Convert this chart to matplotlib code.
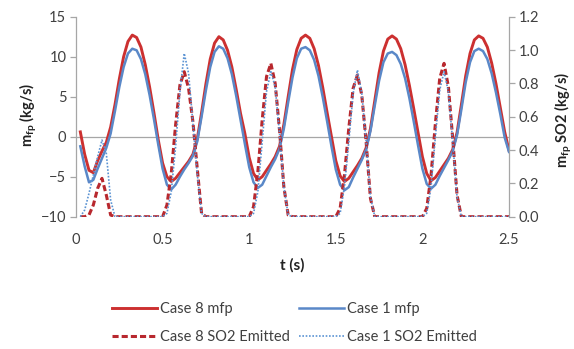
import numpy as np
import matplotlib
matplotlib.use("Agg")
import matplotlib.pyplot as plt
from matplotlib.lines import Line2D

plt.rcParams['font.family'] = ['Lato', 'DejaVu Sans']
plt.rcParams['mathtext.fontset'] = 'custom'
plt.rcParams['mathtext.rm'] = 'Lato'
plt.rcParams['mathtext.bf'] = 'Lato:bold'

# ---------------- data ----------------
t = np.round(np.arange(1, 101) * 0.025, 3)

case8_mfp = [
    0.6, -2.2, -4.2, -4.5, -3.0, -1.8, -0.7, 1.2, 4.0, 7.2,
    10.0, 11.9, 12.7, 12.4, 11.2, 9.0, 6.2, 3.0, -0.4, -3.3,
    -5.0, -5.6, -5.2, -4.5, -3.8, -3.1, -2.2, -0.3, 3.0, 6.6,
    9.7, 11.7, 12.5, 12.1, 10.8, 8.7, 5.9, 2.9, 0.4, -2.6,
    -4.6, -5.4, -5.0, -4.2, -3.4, -2.5, -1.2, 1.5, 5.0, 8.4,
    10.9, 12.3, 12.7, 12.3, 11.0, 8.9, 6.1, 3.0, 0.0, -3.0,
    -4.9, -5.6, -5.2, -4.4, -3.6, -2.7, -1.4, 1.0, 4.5, 8.0,
    10.7, 12.2, 12.6, 12.2, 11.0, 9.0, 6.4, 3.5, 0.5, -2.5,
    -4.6, -5.5, -5.1, -4.3, -3.5, -2.7, -1.6, 0.5, 4.0, 7.6,
    10.4, 12.1, 12.6, 12.3, 11.2, 9.2, 6.6, 3.6, 0.6, -1.7,
]

case1_mfp = [
    -1.2, -3.7, -5.7, -5.4, -4.0, -2.7, -1.4, 0.4, 3.2, 6.2,
    8.7, 10.4, 11.0, 10.8, 9.7, 7.8, 5.2, 2.2, -1.0, -4.0,
    -6.0, -6.6, -6.0, -5.0, -4.1, -3.3, -2.4, -0.6, 2.5, 5.8,
    8.7, 10.6, 11.3, 11.0, 9.8, 7.8, 5.1, 2.1, -0.9, -3.8,
    -5.7, -6.4, -6.0, -4.9, -3.8, -2.8, -1.5, 1.0, 4.3, 7.4,
    9.8, 11.0, 11.2, 10.8, 9.6, 7.6, 4.9, 1.9, -1.2, -4.1,
    -6.0, -6.7, -6.3, -5.1, -4.0, -2.9, -1.6, 0.7, 3.9, 7.0,
    9.3, 10.4, 10.6, 10.2, 9.1, 7.3, 4.8, 1.9, -1.1, -4.0,
    -5.9, -6.5, -6.0, -4.9, -3.9, -2.9, -1.8, 0.2, 3.4, 6.8,
    9.3, 10.7, 11.0, 10.7, 9.7, 7.9, 5.5, 2.8, -0.1, -1.9,
]

case8_so2 = [
    0.0, 0.0, 0.01, 0.07, 0.17, 0.23, 0.13, 0.01, 0.0, 0.0,
    0.0, 0.0, 0.0, 0.0, 0.0, 0.0, 0.0, 0.0, 0.0, 0.0,
    0.07, 0.26, 0.55, 0.79, 0.87, 0.77, 0.57, 0.29, 0.02, 0.0,
    0.0, 0.0, 0.0, 0.0, 0.0, 0.0, 0.0, 0.0, 0.0, 0.0,
    0.06, 0.27, 0.58, 0.84, 0.92, 0.80, 0.52, 0.18, 0.01, 0.0,
    0.0, 0.0, 0.0, 0.0, 0.0, 0.0, 0.0, 0.0, 0.0, 0.0,
    0.05, 0.25, 0.53, 0.77, 0.85, 0.73, 0.45, 0.11, 0.0, 0.0,
    0.0, 0.0, 0.0, 0.0, 0.0, 0.0, 0.0, 0.0, 0.0, 0.0,
    0.05, 0.25, 0.56, 0.83, 0.92, 0.78, 0.47, 0.13, 0.0, 0.0,
    0.0, 0.0, 0.0, 0.0, 0.0, 0.0, 0.0, 0.0, 0.0, 0.0,
]

case1_so2 = [
    0.0, 0.04, 0.14, 0.25, 0.36, 0.46, 0.38, 0.10, 0.0, 0.0,
    0.0, 0.0, 0.0, 0.0, 0.0, 0.0, 0.0, 0.0, 0.0, 0.0,
    0.02, 0.15, 0.42, 0.75, 0.98, 0.86, 0.56, 0.26, 0.02, 0.0,
    0.0, 0.0, 0.0, 0.0, 0.0, 0.0, 0.0, 0.0, 0.0, 0.0,
    0.02, 0.15, 0.45, 0.75, 0.87, 0.78, 0.50, 0.18, 0.01, 0.0,
    0.0, 0.0, 0.0, 0.0, 0.0, 0.0, 0.0, 0.0, 0.0, 0.0,
    0.02, 0.18, 0.45, 0.74, 0.88, 0.74, 0.45, 0.12, 0.0, 0.0,
    0.0, 0.0, 0.0, 0.0, 0.0, 0.0, 0.0, 0.0, 0.0, 0.0,
    0.02, 0.18, 0.48, 0.76, 0.87, 0.75, 0.45, 0.12, 0.0, 0.0,
    0.0, 0.0, 0.0, 0.0, 0.0, 0.0, 0.0, 0.0, 0.0, 0.0,
]

x_ticks = [0, 0.5, 1, 1.5, 2, 2.5]
x_tick_labels = ['0', '0.5', '1', '1.5', '2', '2.5']
left_ticks = [-10, -5, 0, 5, 10, 15]
right_ticks = [0.0, 0.2, 0.4, 0.6, 0.8, 1.0, 1.2]
right_tick_labels = ['0.0', '0.2', '0.4', '0.6', '0.8', '1.0', '1.2']

series_labels = ['Case 8 mfp', 'Case 1 mfp', 'Case 8 SO2 Emitted', 'Case 1 SO2 Emitted']

# ---------------- styles ----------------
RED = '#CC3030'
BLUE = '#5A88C8'
DRED = '#B8282E'
LBLUE = '#5B93D3'
GRID = '#A6A6A6'
TXT = '#404040'

W, H = 574, 349
fig = plt.figure(figsize=(W / 100, H / 100), dpi=100)
ax = fig.add_axes([76 / W, 1 - 216.7 / H, (509 - 76) / W, 200 / H])
ax2 = ax.twinx()

ax.axhline(0, color=GRID, lw=0.9, zorder=1)
l8, = ax.plot(t, case8_mfp, color=RED, lw=2.1, zorder=3)
l1, = ax.plot(t, case1_mfp, color=BLUE, lw=1.8, zorder=4)
s8, = ax2.plot(t, case8_so2, color=DRED, lw=2.2, dashes=(2, 1), zorder=3)
s1, = ax2.plot(t, case1_so2, color=LBLUE, lw=1.2, dashes=(1, 1), zorder=4)

ax.set_xlim(0, 2.5)
ax.set_ylim(-10, 15)
ax2.set_ylim(0, 1.2)
ax.set_xticks(x_ticks)
ax.set_xticklabels(x_tick_labels)
ax.set_yticks(left_ticks)
ax2.set_yticks(right_ticks)
ax2.set_yticklabels(right_tick_labels)

for a in (ax, ax2):
    for s in ('top', 'bottom'):
        a.spines[s].set_visible(False)
    a.spines['left'].set_color(GRID)
    a.spines['right'].set_color(GRID)
    a.spines['left'].set_linewidth(0.9)
    a.spines['right'].set_linewidth(0.9)
ax.spines['right'].set_visible(False)
ax2.spines['left'].set_visible(False)

ax.tick_params(axis='x', length=0, pad=12, labelsize=10.5, labelcolor=TXT)
ax.tick_params(axis='y', length=4, width=0.9, color=GRID, pad=3, labelsize=10.5, labelcolor=TXT)
ax2.tick_params(axis='y', length=4, width=0.9, color=GRID, pad=3, labelsize=10.5, labelcolor=TXT)

fig.text(28 / W, 1 - 115 / H, r'$\mathbf{m_{fp}}$ (kg/s)', rotation=90, ha='center', va='center',
         fontsize=10.5, fontweight='bold', color='#222222')
fig.text(563 / W, 1 - 120 / H, r'$\mathbf{m_{fp}}$ SO2 (kg/s)', rotation=90, ha='center', va='center',
         fontsize=10.5, fontweight='bold', color='#222222')
fig.text(292 / W, 1 - 265 / H, 't (s)', ha='center', va='center', fontsize=11,
         fontweight='bold', color='#222222')

handles = [
    Line2D([], [], color=RED, lw=2.1),
    Line2D([], [], color=BLUE, lw=1.8),
    Line2D([], [], color=DRED, lw=2.2, dashes=(2, 1)),
    Line2D([], [], color=LBLUE, lw=1.2, dashes=(1, 1)),
]
order = [0, 2, 1, 3]
leg = fig.legend([handles[i] for i in order], [series_labels[i] for i in order],
                 ncol=2, loc='center left', bbox_to_anchor=(112 / W, 1 - 323 / H),
                 frameon=False, fontsize=10.5, handlelength=3.1, handletextpad=0.2,
                 columnspacing=0.6, labelspacing=0.95, borderpad=0, borderaxespad=0)
for txt in leg.get_texts():
    txt.set_color(TXT)

fig.savefig('out.png', dpi=100)
